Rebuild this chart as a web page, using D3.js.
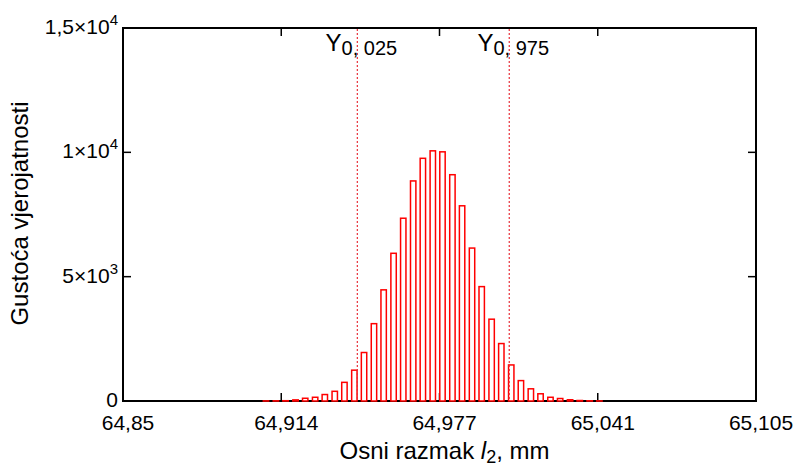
<!DOCTYPE html>
<html>
<head>
<meta charset="utf-8">
<script src="https://cdn.jsdelivr.net/npm/d3@7"></script>
<style>
  body { margin: 0; background: #fff; }
  text { font-family: 'Liberation Sans', Arial, sans-serif; fill: #000; }
</style>
</head>
<body>
<svg id="chart"></svg>
<script>
// bin centres (mm) and heights (probability density)
const binCenters = [
    64.9076, 64.9116, 64.9155, 64.9195, 64.9234, 64.9274, 64.9313, 64.9353, 64.9392, 64.9432,
    64.9471, 64.9511, 64.9550, 64.9590, 64.9629, 64.9669, 64.9708, 64.9748, 64.9787, 64.9827,
    64.9866, 64.9906, 64.9945, 64.9985, 65.0024, 65.0064, 65.0103, 65.0143, 65.0182, 65.0222,
    65.0261, 65.0301, 65.0340, 65.0380, 65.0419
]
const binDensity = [
    3, 6, 12, 45, 110, 150, 260, 390, 750, 1240,
    1950, 3110, 4470, 5940, 7350, 8850, 9760, 10060, 10020, 9100,
    7850, 6150, 4600, 3290, 2310, 1450, 820, 490, 290, 150,
    100, 50, 20, 8, 3
]
const binWidth = 0.00395

const xTickValues = [64.85, 64.91375, 64.9775, 65.04125, 65.105]
const xTickLabels = ['64,85', '64,914', '64,977', '65,041', '65,105']

const yTickValues = [0, 5000, 10000, 15000]
const yTickBase = ['0', '5\u00d710', '1\u00d710', '1,5\u00d710']
const yTickExp = ['', '3', '4', '4']

const quantileValues = [64.9444, 65.0056]
const quantileLabels = ['0, 025', '0, 975']

class Histogram {

    constructor(_config) {
        this.config = {
            parentElement: _config.parentElement,
            containerWidth: _config.containerWidth || 799,
            containerHeight: _config.containerHeight || 469,
            margin: { top: 28, right: 43, bottom: 68, left: 123 }
        }
        this.initVis()
    }

    initVis() {
        let vis = this

        vis.width = vis.config.containerWidth - vis.config.margin.left - vis.config.margin.right
        vis.height = vis.config.containerHeight - vis.config.margin.top - vis.config.margin.bottom

        vis.svg = d3.select(vis.config.parentElement)
            .attr('width', vis.config.containerWidth)
            .attr('height', vis.config.containerHeight)

        vis.chart = vis.svg.append('g')
            .attr('transform', `translate(${vis.config.margin.left}, ${vis.config.margin.top})`)

        vis.xScale = d3.scaleLinear()
            .domain([64.85, 65.105])
            .range([0, vis.width])

        vis.yScale = d3.scaleLinear()
            .domain([0, 15000])
            .range([vis.height, 0])

        vis.renderVis()
    }

    renderVis() {
        let vis = this
        const tickLen = 8

        // frame
        vis.chart.append('rect')
            .attr('width', vis.width)
            .attr('height', vis.height)
            .attr('fill', 'none')
            .attr('stroke', '#000')
            .attr('stroke-width', 2)

        // inward ticks on all four sides
        const ticks = vis.chart.append('g').attr('stroke', '#000').attr('stroke-width', 1.5)
        xTickValues.slice(1, -1).forEach(v => {
            const x = vis.xScale(v)
            ticks.append('line').attr('x1', x).attr('x2', x).attr('y1', vis.height).attr('y2', vis.height - tickLen)
            ticks.append('line').attr('x1', x).attr('x2', x).attr('y1', 0).attr('y2', tickLen)
        })
        yTickValues.slice(1, -1).forEach(v => {
            const y = vis.yScale(v)
            ticks.append('line').attr('x1', 0).attr('x2', tickLen).attr('y1', y).attr('y2', y)
            ticks.append('line').attr('x1', vis.width).attr('x2', vis.width - tickLen).attr('y1', y).attr('y2', y)
        })

        // x tick labels
        vis.chart.selectAll('.x-label')
            .data(xTickValues)
            .join('text')
                .attr('class', 'x-label')
                .attr('x', d => vis.xScale(d) + 5)
                .attr('y', vis.height + 29)
                .attr('text-anchor', 'middle')
                .attr('font-size', 21)
                .text((d, i) => xTickLabels[i])

        // y tick labels with exponent
        const yLabels = vis.chart.selectAll('.y-label')
            .data(yTickValues)
            .join('text')
                .attr('class', 'y-label')
                .attr('x', -5)
                .attr('y', d => vis.yScale(d) + 6)
                .attr('text-anchor', 'end')
                .attr('font-size', 21)
        yLabels.append('tspan').text((d, i) => yTickBase[i])
        yLabels.append('tspan')
            .attr('dy', -9)
            .attr('font-size', 15)
            .text((d, i) => yTickExp[i])

        // histogram bars
        const barW = vis.xScale(64.85 + binWidth * 0.55) - vis.xScale(64.85)
        vis.chart.selectAll('.bar')
            .data(binCenters)
            .join('rect')
                .attr('class', 'bar')
                .attr('x', d => vis.xScale(d) - barW / 2)
                .attr('width', barW)
                .attr('y', (d, i) => vis.yScale(binDensity[i]))
                .attr('height', (d, i) => vis.height - vis.yScale(binDensity[i]))
                .attr('fill', '#fff')
                .attr('stroke', '#ff0000')
                .attr('stroke-width', 1.5)

        // quantile lines
        quantileValues.forEach((q, i) => {
            const x = vis.xScale(q)
            vis.chart.append('line')
                .attr('x1', x).attr('x2', x)
                .attr('y1', 1).attr('y2', vis.height)
                .attr('stroke', '#e8303a')
                .attr('stroke-width', 1.2)
                .attr('stroke-dasharray', '2,2')
            const lbl = vis.chart.append('text')
                .attr('x', x + 4)
                .attr('y', 23)
                .attr('text-anchor', 'middle')
                .attr('font-size', 24)
            lbl.append('tspan').text('Y')
            lbl.append('tspan')
                .attr('dy', 4)
                .attr('font-size', 20)
                .text(quantileLabels[i])
        })

        // axis titles
        const xt = vis.svg.append('text')
            .attr('x', vis.config.margin.left + vis.width / 2 + 5)
            .attr('y', 459)
            .attr('text-anchor', 'middle')
            .attr('font-size', 24)
        xt.append('tspan').text('Osni razmak ')
        xt.append('tspan').attr('font-style', 'italic').text('l')
        xt.append('tspan').attr('dy', 4).attr('font-size', 18).text('2')
        xt.append('tspan').attr('dy', -4).text(', mm')

        vis.svg.append('text')
            .attr('transform', `translate(28, ${vis.config.margin.top + vis.height / 2 - 1}) rotate(-90)`)
            .attr('text-anchor', 'middle')
            .attr('font-size', 24)
            .text('Gustoća vjerojatnosti')
    }
}

new Histogram({ parentElement: '#chart' })
</script>
</body>
</html>
